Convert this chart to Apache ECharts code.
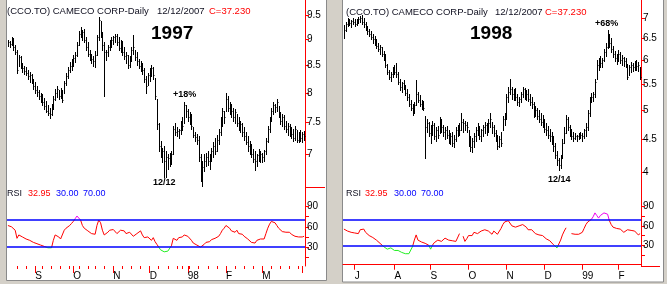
<!DOCTYPE html>
<html><head><meta charset="utf-8">
<script src="https://cdn.jsdelivr.net/npm/echarts@6/dist/echarts.min.js"></script>
<style>html,body{margin:0;padding:0;background:#d4d0c8;overflow:hidden}#c{width:667px;height:284px}</style>
</head><body><div id="c"></div>
<script>
// ---------------- DATA (prices in cents) ----------------
const leftStart = '1997-08-11';
const leftHolidays = ['1997-09-01','1997-10-13','1997-12-25','1997-12-26','1998-01-01','1998-04-10'];
const leftHigh = [900,898,905,903,890,880,870,868,855,850, 848,842,838,835,826,820,812,806,800,798,
 792,786,780,774,782,795,808,812,806,810, 806,822,836,848,856,862,870,876,895,918,
 925,920,922,905,895,880,872,868,878,910, 945,938,915,895,880,890,900,906,908,912,
 912,905,900,898,885,875,870,868,885,910, 880,876,862,858,855,845,830,836,845,852,
 848,828,790,750,720,710,712,705,700,702, 705,745,750,742,740,752,760,785,780,772,
 768,765,742,735,732,728,700,690,700,702, 704,700,710,718,725,730,740,760,775,770,
 800,795,785,782,775,772,765,760,752,750, 742,735,728,720,715,708,704,700,708,705,
 702,706,725,745,760,775,785,782,790,778, 768,765,762,752,750,748,742,740,745,738,
 735,738,735,736];
const leftLow = [888,886,890,880,872,836,850,846,838,835, 832,826,820,818,808,800,796,790,784,780,
 772,768,762,758,762,772,788,794,790,792, 784,800,815,828,838,842,850,856,868,890,
 905,900,895,880,868,860,855,850,848,870, 900,905,880,795,860,868,880,885,892,895,
 890,880,875,870,862,855,845,848,858,872, 860,852,845,840,835,820,800,815,822,830,
 826,790,740,705,695,688,665,665,678,682, 685,700,730,728,725,732,738,750,760,752,
 748,740,726,720,716,690,660,652,675,682, 684,678,690,695,700,705,715,730,745,750,
 770,770,765,760,752,750,745,738,735,728, 722,715,705,700,695,688,676,682,690,688,
 688,690,700,718,735,752,765,768,770,760, 748,745,740,735,730,728,725,720,722,718,
 718,720,718,722];
const leftClose = [895,892,902,885,876,842,866,850,845,840, 836,830,832,822,812,805,802,795,790,784,
 778,770,766,764,778,790,800,808,796,805, 788,818,830,842,850,858,865,870,890,912,
 920,915,900,886,872,872,862,858,870,905, 940,915,890,875,875,885,895,900,905,908,
 895,884,896,876,868,870,852,862,880,885, 866,858,850,854,842,826,812,832,840,845,
 832,795,748,712,700,705,690,695,694,688, 700,740,735,736,738,748,744,780,770,760,
 765,745,730,726,722,695,668,680,690,695, 690,696,705,712,705,722,735,755,770,760,
 790,775,780,770,760,768,750,745,748,735, 728,718,712,706,700,692,690,698,694,700,
 695,704,720,740,755,770,780,776,785,765, 752,760,745,740,745,735,732,725,740,722,
 730,725,732,728];
const leftRsi = [62,61,60,58,55, 43, 48,46,45,44,42,41,40,38,37, 36,35,34,33,32,31,30,29, 28,29,
 40,48,46,45,42,44, 55,58,60,62,65,68,72, 76,74,70, 62,58,56,54,52,50,52,49, 62,70,66, 55,48,50,
 52,55,53,56,54,50,52,55,56,54,50,48,52,50,46, 48,50,52,54,48,44,42,45,43, 40,44,38,34,30,26,
 24,23,23,24,26, 32,43,42,40,44,46,45, 48,47,46, 47,40,36,35,33, 32,30,31,
 34,37,39,38,41,40,43,42,46,50,55,58, 62,60, 58,54,56,52,55,50,48,49,46,44,42,40,37,35,
 36,40,42,42,41,42, 50,58,64,68,70, 66,62,58,56,53,55,52,50,52,49,48,46,48,45,47,45,46];

const rightStart = '1998-06-23';
const rightHolidays = ['1998-07-01','1998-08-03','1998-09-07','1998-10-12','1998-12-25','1998-12-28','1999-01-01'];
const rightHigh = [683,690,700,698,695,700,696,698,702,705, 708,700,690,680,672,668,660,655,648,640,
 635,630,620,615,592,580,575,585,590,595, 575,560,555,558,548,540,530,520,512,515,
 558,535,528,520,518,490,485,480,475,482, 478,470,472,488,485,475,470,472,465,460,
 462,458,470,475,478,495,485,482,480,465, 455,452,460,470,478,472,468,475,480,478,
 485,495,480,475,465,458,455,462,490,495, 530,545,560,545,540,542,530,525,535,545,
 542,538,540,530,525,515,508,505,500,495, 492,485,478,472,468,462,455,445,432,420,
 425,450,470,492,488,475,468,462,460,458, 460,462,460,468,478,500,525,532,535,560,
 600,605,610,605,625,640,670,660,650,632, 620,615,622,618,612,608,605,592,590,596,
 594,598,600,596,585];
const rightLow = [650,668,680,682,678,685,680,682,688,690, 685,678,670,660,655,648,640,635,628,620,
 615,610,600,585,570,560,556,565,570,565, 550,538,535,540,528,520,508,500,492,496,
 510,515,508,502,500,420,462,455,445,458, 450,448,452,460,462,455,450,452,445,442,
 440,438,448,455,458,465,462,465,462,440, 432,430,438,448,458,450,448,455,460,458,
 462,470,460,455,448,435,438,440,465,475, 485,515,530,522,520,520,510,508,515,525,
 522,520,518,510,505,488,490,485,480,475, 470,462,458,452,448,442,432,420,410,403,
 405,420,445,460,465,455,450,448,450,448, 450,452,448,452,455,465,490,515,518,525,
 560,580,585,585,598,610,628,630,618,608, 598,592,598,595,590,588,585,560,568,575,
 578,580,580,578,560];
const rightClose = [670,685,695,688,692,690,684,695,698,700, 690,685,675,668,660,652,648,645,632,626,
 630,615,605,590,575,565,570,580,575,570, 555,545,552,545,532,525,512,505,498,510,
 530,520,512,515,505,470,478,460,468,475, 455,465,458,480,470,462,466,458,450,455,
 445,450,465,470,465,480,478,475,470,445, 438,448,455,465,470,455,465,470,475,462,
 478,485,470,460,452,440,450,445,485,490, 525,535,540,530,538,525,515,522,530,540,
 535,530,522,515,512,495,500,490,485,480, 478,468,465,458,455,448,440,425,418,410,
 420,445,460,485,470,460,455,452,455,455, 452,458,455,465,470,495,520,525,530,555,
 590,598,595,600,618,630,655,640,625,615, 605,600,615,600,605,598,590,565,585,590,
 585,595,588,590,565];
const rightRsi = [55,56,52,51,50,50,49,49,48,54,57,55, 50,47,45,44,42,40,38,36,33,31,
 28,27,24,27,26,25,22,21,22,20,19,20,17,15,17,20, 28,38,46, 38,36,35,34,33,31,30, 24,30,
 34,36,38,40,36,38,41,40,38,36,37,35,36,38, 48, null,
 44,36,40,45,48,45,50,52,48,50,52,50,54,51,52,49,47,52,50,47,49, 56,62,66,69,68,65,
 60,62,58,56,60,58,62,60,58,54,56, 54,52,48,50,46,44,45,42,40,39,37,35,31,28, 26,28,
 38,46,52,57, null,null, 48,47,47,46,47,48,50, 56,62,66,65,70,74, 80,76,72,76,78,80,83,78,
 68,62,58,60,56,57,55,53,50,52,54,55,53,55,52,50,46,48];

const leftPriceTicks = [7, 7.5, 8, 8.5, 9, 9.5];
const rightPriceTicks = [4, 4.5, 5, 5.5, 6, 6.5, 7];
const leftPriceRange = [6.51, 9.82];
const rightPriceRange = [3.786, 7.47];
const rsiTicks = [15, 30, 45, 60, 75, 90];
const rsiLabels = [30, 60, 90];
const rsiLevels = [30, 70];
const monthNames = ['', 'J','F','M','A','M','J','J','A','S','O','N','D'];

// ---------------- helpers ----------------
function tradingDays(start, n, hol) {
  const out = []; const d = new Date(start + 'T00:00:00Z');
  while (out.length < n) {
    const wd = d.getUTCDay(); const s = d.toISOString().slice(0, 10);
    if (wd !== 0 && wd !== 6 && hol.indexOf(s) < 0) out.push(s);
    d.setUTCDate(d.getUTCDate() + 1);
  }
  return out;
}
const leftDates = tradingDays(leftStart, leftClose.length, leftHolidays);
const rightDates = tradingDays(rightStart, rightClose.length, rightHolidays);
function isMonthStart(dates, i) { return i > 0 && dates[i].slice(5, 7) !== dates[i - 1].slice(5, 7); }
function isWeekStart(dates, i) {
  if (i === 0) return false;
  const a = new Date(dates[i] + 'T00:00:00Z').getUTCDay(), b = new Date(dates[i - 1] + 'T00:00:00Z').getUTCDay();
  return a < b;
}
function monthLabel(s) { const m = +s.slice(5, 7); return m === 1 ? s.slice(2, 4) : monthNames[m]; }
function toBars(h, l, c) { return c.map((v, i) => [i, Math.log(h[i] / 100), Math.log(l[i] / 100), Math.log(v / 100)]); }
function priceFmt(v) { const p = Math.round(Math.exp(v) * 2) / 2; return String(p); }

function ohlc(params, api) {
  const i = api.value(0);
  const hi = api.coord([i, api.value(1)]), lo = api.coord([i, api.value(2)]), cl = api.coord([i, api.value(3)]);
  const x = Math.round(hi[0]) + 0.5;
  const yc = Math.round(cl[1]) + 0.5;
  return { type: 'group', children: [
    { type: 'line', shape: { x1: x, y1: Math.round(hi[1]), x2: x, y2: Math.round(lo[1]) + 1 }, style: { stroke: '#000', lineWidth: 1 } },
    { type: 'line', shape: { x1: x, y1: yc, x2: x + 1, y2: yc }, style: { stroke: '#000', lineWidth: 1 } }
  ]};
}

const FONT = '"Liberation Sans", Arial, sans-serif';
const RED = '#ff0000';
function priceAxis(grid, ticks, range) {
  const cv = ticks.map(Math.log);
  return { gridIndex: grid, type: 'value', position: 'right', min: Math.log(range[0]), max: Math.log(range[1]),
    splitLine: { show: false }, axisLine: { show: true, lineStyle: { color: RED, width: 1 } },
    axisTick: { show: true, length: 4, inside: false, customValues: cv, lineStyle: { color: RED } },
    axisLabel: { customValues: cv, formatter: priceFmt, color: '#000', fontSize: 10, fontFamily: FONT, margin: 2 } };
}
function rsiAxis(grid, min, max) {
  return { gridIndex: grid, type: 'value', position: 'right', min: min, max: max,
    splitLine: { show: false }, axisLine: { show: true, lineStyle: { color: RED, width: 1 } },
    axisTick: { show: true, length: 4, customValues: rsiTicks, lineStyle: { color: RED } },
    axisLabel: { customValues: rsiLabels, color: '#000', fontSize: 10, fontFamily: FONT, margin: 2 } };
}
function monthAxis(grid, dates, showLine, tickLen, hideTail) {
  return { gridIndex: grid, type: 'category', data: dates, position: 'bottom', boundaryGap: true,
    axisLine: { show: showLine, lineStyle: { color: RED, width: 1 } },
    axisTick: { show: true, alignWithLabel: true, length: tickLen, lineStyle: { color: RED },
      interval: (i) => isMonthStart(dates, i) },
    axisLabel: { show: true, interval: (i) => isMonthStart(dates, i), align: 'left', color: '#000',
      fontSize: 10, fontFamily: FONT, margin: 5,
      formatter: (v, i) => (i > dates.length - hideTail ? '' : monthLabel(v)) },
    splitLine: { show: false } };
}
function rsiSeries(xi, yi, data) {
  return { type: 'line', xAxisIndex: xi, yAxisIndex: yi, data: data, symbol: 'none', connectNulls: false,
    lineStyle: { width: 1 }, animation: false,
    markLine: { silent: true, symbol: 'none', label: { show: false }, animation: false,
      lineStyle: { color: '#0000ff', width: 1.5, type: 'solid' },
      data: rsiLevels.map(v => ({ yAxis: v })) } };
}
function txt(x, y, s, opt) {
  return Object.assign({ type: 'text', x: x, y: y, z: 50,
    style: Object.assign({ text: s, fill: '#000', font: '10px ' + FONT, textVerticalAlign: 'middle' }, opt || {}) });
}

const chart = echarts.init(document.getElementById('c'), null, { renderer: 'canvas' });
chart.setOption({
  animation: false,
  backgroundColor: '#d4d0c8',
  grid: [
    { left: 7, top: 0, width: 298, height: 187 },
    { left: 7, top: 187, width: 298, height: 79 },
    { left: 343, top: 0, width: 298, height: 187 },
    { left: 343, top: 187, width: 298, height: 79 }
  ],
  xAxis: [
    { gridIndex: 0, type: 'category', data: leftDates, show: false, boundaryGap: true },
    { gridIndex: 1, type: 'category', data: leftDates, position: 'bottom', boundaryGap: true,
      axisLine: { show: false }, axisLabel: { show: false }, splitLine: { show: false },
      axisTick: { show: true, alignWithLabel: true, length: 3, lineStyle: { color: RED }, interval: (i) => isWeekStart(leftDates, i) } },
    monthAxis(1, leftDates, false, 7, 4),
    { gridIndex: 2, type: 'category', data: rightDates, show: false, boundaryGap: true },
    monthAxis(3, rightDates, true, 5, 0)
  ],
  yAxis: [
    priceAxis(0, leftPriceTicks, leftPriceRange),
    rsiAxis(1, 2, 119),
    priceAxis(2, rightPriceTicks, rightPriceRange),
    rsiAxis(3, -2, 120)
  ],
  visualMap: [1, 3].map(si => ({ type: 'piecewise', show: false, seriesIndex: si, dimension: 1,
    pieces: [{ lt: 30, color: '#22ee22' }, { gte: 30, lte: 70, color: '#ff0000' }, { gt: 70, color: '#ee00ee' }] })),
  series: [
    { type: 'custom', xAxisIndex: 0, yAxisIndex: 0, renderItem: ohlc, data: toBars(leftHigh, leftLow, leftClose), encode: { x: 0, y: [1, 2, 3] }, animation: false },
    rsiSeries(2, 1, leftRsi),
    { type: 'custom', xAxisIndex: 3, yAxisIndex: 2, renderItem: ohlc, data: toBars(rightHigh, rightLow, rightClose), encode: { x: 0, y: [1, 2, 3] }, animation: false },
    rsiSeries(4, 3, rightRsi)
  ],
  graphic: { elements: [
    { type: 'rect', z: -100, shape: { x: 6.5, y: -1, width: 320, height: 281.5 }, style: { fill: '#fff', stroke: '#8a8a8a', lineWidth: 1 } },
    { type: 'rect', z: -100, shape: { x: 342.5, y: -1, width: 321, height: 283 }, style: { fill: '#fff', stroke: '#8a8a8a', lineWidth: 1 } },
    { type: 'line', z: 5, shape: { x1: 305, y1: 187.5, x2: 325, y2: 187.5 }, style: { stroke: RED, lineWidth: 1 } },
    { type: 'line', z: 5, shape: { x1: 641, y1: 266.5, x2: 660, y2: 266.5 }, style: { stroke: RED, lineWidth: 1 } },
    txt(7, 11, '(CCO.TO) CAMECO CORP-Daily', { font: '9.5px ' + FONT, fill: '#101020' }),
    txt(157, 11, '12/12/2007', { font: '9.5px ' + FONT, fill: '#101020' }),
    txt(209, 11, 'C=37.230', { font: '9.5px ' + FONT, fill: RED }),
    txt(346, 12, '(CCO.TO) CAMECO CORP-Daily', { font: '9.5px ' + FONT, fill: '#101020' }),
    txt(495, 12, '12/12/2007', { font: '9.5px ' + FONT, fill: '#101020' }),
    txt(545, 12, 'C=37.230', { font: '9.5px ' + FONT, fill: RED }),
    txt(151, 34, '1997', { font: 'bold 19px ' + FONT }),
    txt(470, 34, '1998', { font: 'bold 19px ' + FONT }),
    txt(173, 95, '+18%', { font: 'bold 9px ' + FONT }),
    txt(153, 183, '12/12', { font: 'bold 9px ' + FONT }),
    txt(548, 180, '12/14', { font: 'bold 9px ' + FONT }),
    txt(595, 24, '+68%', { font: 'bold 9px ' + FONT }),
    txt(7, 194, 'RSI', { font: '9px ' + FONT, fill: '#101020' }),
    txt(28, 194, '32.95', { font: '9px ' + FONT, fill: RED }),
    txt(56, 194, '30.00', { font: '9px ' + FONT, fill: '#0000ff' }),
    txt(83, 194, '70.00', { font: '9px ' + FONT, fill: '#0000ff' }),
    txt(346, 194, 'RSI', { font: '9px ' + FONT, fill: '#101020' }),
    txt(365, 194, '32.95', { font: '9px ' + FONT, fill: RED }),
    txt(394, 194, '30.00', { font: '9px ' + FONT, fill: '#0000ff' }),
    txt(421, 194, '70.00', { font: '9px ' + FONT, fill: '#0000ff' })
  ] }
});
</script></body></html>
